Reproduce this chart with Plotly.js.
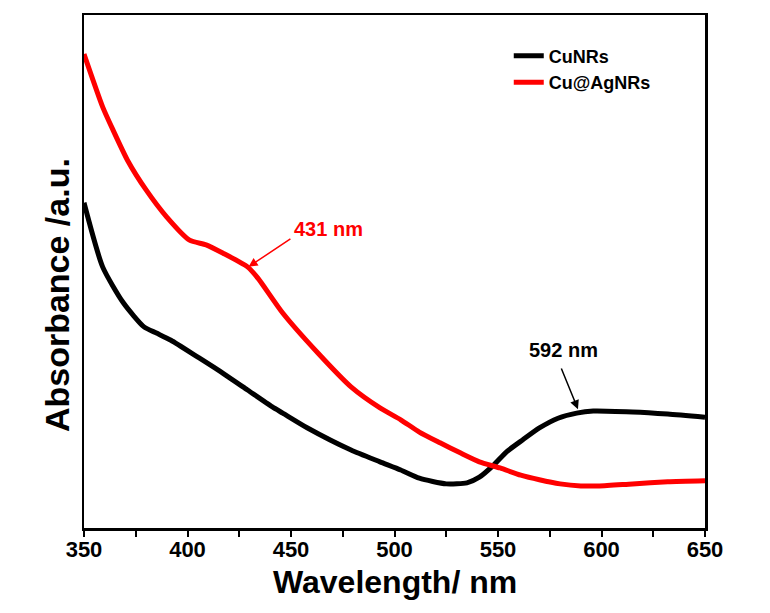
<!DOCTYPE html>
<html>
<head>
<meta charset="utf-8">
<script src="https://cdn.plot.ly/plotly-3.0.1.min.js"></script>
<style>html,body{margin:0;padding:0;background:#fff;}#chart{width:770px;height:613px;}</style>
</head>
<body>
<div id="chart"></div>
<script>
// Wavelength (nm) and absorbance (a.u., arbitrary scale)
const cuWavelength = [350,359,369,379,385,392,405,417,429,441,446,458,479,493,503,512,525,535,541,548,554,562,570,579,588,596,615,632,650];
const cuAbsorbance = [0.634,0.509,0.439,0.392,0.380,0.366,0.333,0.302,0.269,0.236,0.224,0.195,0.152,0.129,0.113,0.097,0.086,0.088,0.099,0.123,0.148,0.172,0.195,0.214,0.224,0.228,0.226,0.222,0.216];

const cuAgWavelength = [350,359,364,371,380,390,401,409,417,429,434,446,463,479,493,503,512,522,532,541,551,561,570,580,590,599,615,632,650];
const cuAgAbsorbance = [0.924,0.821,0.776,0.717,0.659,0.606,0.561,0.552,0.536,0.509,0.487,0.419,0.341,0.275,0.234,0.211,0.187,0.166,0.146,0.129,0.117,0.103,0.094,0.086,0.082,0.082,0.086,0.090,0.092];

const seriesNames = ["CuNRs", "Cu@AgNRs"];
const xTicks = [350,400,450,500,550,600,650];
const xTitle = "Wavelength/ nm";
const yTitle = "Absorbance /a.u.";

// Peak markers
const peakCu = {x: 589, y: 0.228, label: "592 nm"};
const peakCuAg = {x: 428.7, y: 0.507, label: "431 nm"};

const FONT = "Liberation Sans, Arial, Helvetica, sans-serif";

const traces = [
  {x: cuWavelength, y: cuAbsorbance, name: seriesNames[0], mode: "lines",
   line: {color: "#000000", width: 5, shape: "spline", smoothing: 0.6}},
  {x: cuAgWavelength, y: cuAgAbsorbance, name: seriesNames[1], mode: "lines",
   line: {color: "#ff0000", width: 5, shape: "spline", smoothing: 0.6}}
];

const layout = {
  width: 770, height: 613,
  margin: {l: 84, r: 65, t: 15, b: 85},
  paper_bgcolor: "#ffffff", plot_bgcolor: "#ffffff",
  font: {family: FONT, color: "#000", weight: "bold"},
  showlegend: true,
  legend: {x: 0.684, y: 0.956, xanchor: "left", yanchor: "top",
    font: {family: FONT, size: 18, color: "#000", weight: "bold"},
    bgcolor: "rgba(0,0,0,0)", tracegroupgap: 0, itemwidth: 30},
  xaxis: {
    range: [350, 650], tickvals: xTicks, ticktext: xTicks.map(String),
    ticks: "outside", ticklen: 6, tickwidth: 2, tickcolor: "#000",
    minor: {dtick: 25, tick0: 350, ticks: "outside", ticklen: 6, tickwidth: 2, tickcolor: "#000"},
    showline: true, linewidth: 2.5, linecolor: "#000", mirror: true,
    showgrid: false, zeroline: false, ticklabelstandoff: -6,
    tickfont: {family: FONT, size: 22, color: "#000", weight: "bold"},
    title: {text: ""}
  },
  yaxis: {
    range: [0, 1], showticklabels: false, ticks: "",
    showline: true, linewidth: 2.5, linecolor: "#000", mirror: true,
    showgrid: false, zeroline: false,
    title: {text: ""}
  },
  annotations: [
    {x: 0.5, y: -0.105, xref: "paper", yref: "paper", text: xTitle, showarrow: false,
     xanchor: "center", yanchor: "middle",
     font: {family: FONT, size: 32, color: "#000", weight: "bold"}},
    {x: -0.0435, y: 0.454, xref: "paper", yref: "paper", text: yTitle, showarrow: false,
     textangle: -90, xanchor: "center", yanchor: "middle",
     font: {family: FONT, size: 34, color: "#000", weight: "bold"}},
    {x: peakCuAg.x, y: peakCuAg.y, xref: "x", yref: "y", text: "", showarrow: true,
     ax: 45, ay: -30, arrowhead: 2, arrowsize: 1.2, arrowwidth: 1.5, arrowcolor: "#ff0000", standoff: 2},
    {x: peakCuAg.x, y: peakCuAg.y, xref: "x", yref: "y", text: peakCuAg.label, showarrow: false,
     xshift: 82, yshift: 39, font: {family: FONT, size: 20, color: "#ff0000", weight: "bold"}},
    {x: peakCu.x, y: peakCu.y, xref: "x", yref: "y", text: "", showarrow: true,
     ax: -18, ay: -44, arrowhead: 2, arrowsize: 1.2, arrowwidth: 1.5, arrowcolor: "#000", standoff: 2},
    {x: peakCu.x, y: peakCu.y, xref: "x", yref: "y", text: peakCu.label, showarrow: false,
     xshift: -15, yshift: 61, font: {family: FONT, size: 20, color: "#000", weight: "bold"}}
  ]
};

Plotly.newPlot("chart", traces, layout, {displayModeBar: false, staticPlot: true});
</script>
</body>
</html>
